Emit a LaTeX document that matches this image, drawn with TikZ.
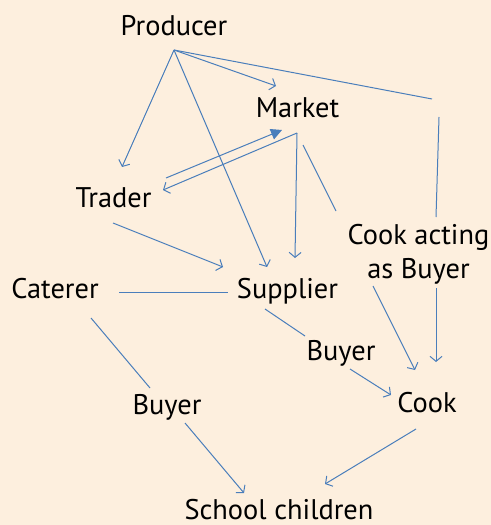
\documentclass[tikz,border=0pt]{standalone}
\usepackage{fontspec}
\setmainfont{PT Sans}
\usetikzlibrary{arrows.meta}
\definecolor{bgbeige}{RGB}{253,239,222}
\definecolor{linkblue}{RGB}{74,126,187}
\tikzset{
  lbl/.style={anchor=base,inner sep=0pt,font=\fontsize{28.5}{34}\selectfont,text=black},
  link/.style={draw=linkblue,line width=1bp},
  arr/.style={link,-{Straight Barb[length=5bp,width=12bp,line width=1bp]}},
  farr/.style={link,-{Triangle[length=11bp,width=11bp]}}
}
\begin{document}
\begin{tikzpicture}[x=1bp,y=-1bp]
\fill[bgbeige] (0,0) rectangle (491,525);
\useasboundingbox (0,0) rectangle (491,525);
% nodes
\node[lbl] (producer) at (174,36) {Producer};
\node[lbl] (market) at (297.5,118) {Market};
\node[lbl] (trader) at (113.5,208) {Trader};
\node[lbl,align=center] (cookbuyer) at (418.5,278) {Cook acting\\as Buyer};
\node[lbl] (caterer) at (55,298) {Caterer};
\node[lbl] (supplier) at (287.5,298) {Supplier};
\node[lbl] (buyerm) at (341,360) {Buyer};
\node[lbl] (cook) at (427,412) {Cook};
\node[lbl] (buyerl) at (167,414) {Buyer};
\node[lbl] (school) at (279,519) {School children};
% connector end points
\coordinate (pS) at (174,50);
\coordinate (trN) at (122,167);
\coordinate (mkW) at (276,86);
\coordinate (corner) at (432,99);
\coordinate (cbTop) at (439,117);
\coordinate (cbN) at (436,217);
\coordinate (cbS) at (436,288);
\coordinate (cookNE) at (436,362);
\coordinate (cbSW) at (373,286);
\coordinate (cookN) at (415,370);
\coordinate (supN) at (267,267);
\coordinate (mkS) at (297,133);
\coordinate (trNE) at (163,190);
\coordinate (trE) at (166,178);
\coordinate (mkSW) at (282,130);
\coordinate (supNE) at (295,258);
\coordinate (mkSE) at (303,145);
\coordinate (cbNW) at (336,211);
\coordinate (trS) at (113,223);
\coordinate (supNW) at (223,267);
\coordinate (catE) at (119,292);
\coordinate (supW) at (228,292);
\coordinate (supS) at (265,309);
\coordinate (bmNW) at (305,336);
\coordinate (bmSE) at (350,369);
\coordinate (cookW) at (391,395);
\coordinate (catS) at (91,318);
\coordinate (blN) at (150,388);
\coordinate (blS) at (185,423);
\coordinate (scNW) at (244,493);
\coordinate (cookS) at (416,429);
\coordinate (scNE) at (325,484);
% connectors
\draw[arr] (pS) -- (trN);
\draw[arr] (pS) -- (mkW);
\draw[link] (pS) -- (corner);
\draw[link] (cbTop) -- (cbN);
\draw[arr] (cbS) -- (cookNE);
\draw[arr] (cbSW) -- (cookN);
\draw[arr] (pS) -- (supN);
\draw[arr] (mkS) -- (trNE);
\draw[farr] (trE) -- (mkSW);
\draw[arr] (mkS) -- (supNE);
\draw[link] (mkSE) -- (cbNW);
\draw[arr] (trS) -- (supNW);
\draw[link] (catE) -- (supW);
\draw[link] (supS) -- (bmNW);
\draw[arr] (bmSE) -- (cookW);
\draw[link] (catS) -- (blN);
\draw[arr] (blS) -- (scNW);
\draw[arr] (cookS) -- (scNE);
\end{tikzpicture}
\end{document}
